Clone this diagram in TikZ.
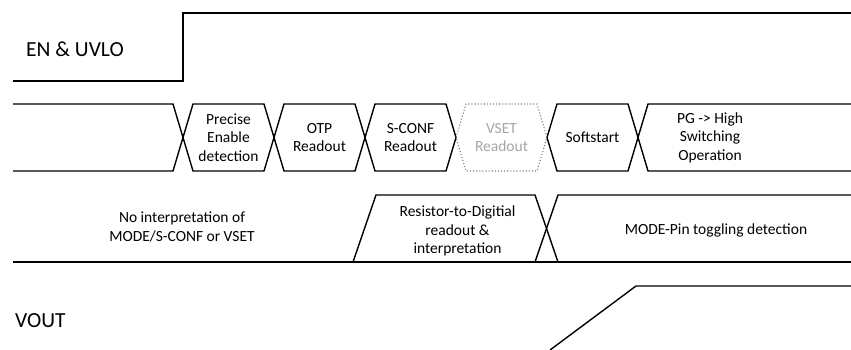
\documentclass[tikz,border=0pt]{standalone}
\usepackage{fontspec}
\setmainfont{Carlito}
\usepackage{xcolor}
\usepackage{tikz}
\usetikzlibrary{calc}
\definecolor{ink}{HTML}{000000}
\definecolor{faded}{HTML}{A6A6A6}
\definecolor{dots}{HTML}{7F7F7F}
\tikzset{
  wave/.style={draw=ink, line width=1.4pt, line join=miter},
  ghost/.style={draw=dots, line width=1.1pt, dotted},
  sig/.style={text=ink, font=\fontsize{21.5}{25}\selectfont, anchor=west, inner sep=0pt},
  lab/.style={text=ink, font=\fontsize{15.5}{18.5}\selectfont, align=center},
  labg/.style={lab, text=faded},
}

\begin{document}
\begin{tikzpicture}[x=1pt,y=-1pt]
  \useasboundingbox (0,0) rectangle (851,350);
  % EN & UVLO
  \draw[wave] (13,81) -| (183,13) -- (851,13);
  \node[sig] (en) at (26,49) {EN \& UVLO};
  % state bus
  \def\hi{104} \def\lo{171} \def\md{137.5} \def\dx{10}
  \draw[wave] (13,\hi) -- (183-\dx,\hi) -- (183,\md) -- (183-\dx,\lo) -- (13,\lo);
  \foreach \a/\b in {183/274,274/365,365/456,547/638}
    \draw[wave] (\a,\md) -- (\a+\dx,\hi) -- (\b-\dx,\hi) -- (\b,\md) -- (\b-\dx,\lo) -- (\a+\dx,\lo) -- cycle;
  \draw[ghost] (456,\md) -- (456+\dx,\hi) -- (547-\dx,\hi) -- (547,\md) -- (547-\dx,\lo) -- (456+\dx,\lo) -- cycle;
  \draw[wave] (851,\hi) -- (638+\dx,\hi) -- (638,\md) -- (638+\dx,\lo) -- (851,\lo);
  \node[lab] (pe) at (228.5,\md) {Precise\\Enable\\detection};
  \node[lab] (otp) at (319.5,\md) {OTP\\Readout};
  \node[lab] (scf) at (410.5,\md) {S-CONF\\Readout};
  \node[labg] (vset) at (501.5,\md) {VSET\\Readout};
  \node[lab] (ss) at (592.5,\md) {Softstart};
  \node[lab] (pg) at (710,\md) {PG -> High\\Switching\\Operation};
  % MODE / S-CONF / VSET pins
  \draw[wave] (13,262) -- (851,262);
  \draw[wave] (353,262) -- (376,195) -- (535,195) -- (558,262);
  \draw[wave] (535,262) -- (558,195) -- (851,195);
  \node[lab] (noint) at (182,227) {No interpretation of\\MODE/S-CONF or VSET};
  \node[lab] (r2d) at (457.5,231) {Resistor-to-Digitial\\readout \&\\interpretation};
  \node[lab] (tog) at (716,230) {MODE-Pin toggling detection};
  % VOUT
  \draw[wave] (550,350) -- (636,286) -- (851,286);
  \node[sig] (vout) at (15,321) {VOUT};
\end{tikzpicture}
\end{document}
